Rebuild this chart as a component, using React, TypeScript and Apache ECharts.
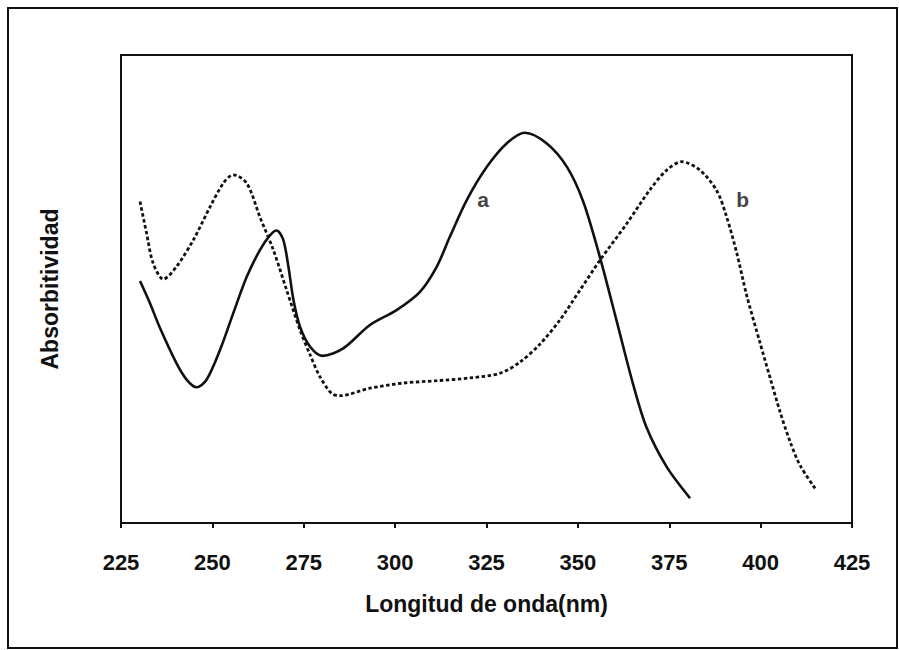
import React, { useEffect, useRef } from "react";
import * as echarts from "echarts";

// Wavelength (nm) and relative absorptivity for spectrum "a" (solid line)
const wavelengthA = [
  230.2, 232.9, 235.7, 240.2, 243.0, 245.7, 248.4, 252.1, 255.7, 259.4, 263.0,
  265.8, 267.6, 269.4, 270.8, 272.2, 274.0, 276.7, 280.1, 285.8, 293.1, 300.4,
  306.8, 311.4, 315.0, 319.6, 325.1, 330.5, 335.5, 341.5, 347.0, 351.5, 356.1,
  360.6, 365.2, 368.8, 374.3, 380.7,
];
const absorptivityA = [
  51.7, 47.0, 41.6, 34.1, 30.6, 29.0, 30.6, 37.0, 44.8, 52.6, 58.3,
  61.5, 62.5, 60.5, 54.8, 47.6, 41.9, 37.7, 35.7, 37.3, 42.3, 45.5,
  49.4, 54.8, 61.2, 69.0, 76.1, 81.1, 83.4, 81.1, 76.1, 68.6, 56.6,
  43.2, 29.4, 20.4, 12.0, 5.3,
];

// Wavelength (nm) and relative absorptivity for spectrum "b" (dotted line)
const wavelengthB = [
  230.2, 232.0, 233.8, 236.6, 240.2, 244.8, 249.4, 253.0, 255.7, 259.4, 263.0,
  266.7, 270.3, 274.0, 276.7, 279.4, 282.6, 284.9, 293.1, 302.2, 311.4, 320.5,
  328.7, 334.2, 339.6, 345.1, 350.6, 356.1, 363.4, 369.7, 374.3, 378.4, 383.4,
  388.0, 390.7, 393.5, 396.2, 399.8, 402.6, 405.3, 408.0, 410.8, 414.9,
];
const absorptivityB = [
  68.7, 61.9, 55.5, 52.1, 54.8, 60.5, 67.6, 72.6, 74.4, 72.6, 65.4,
  58.3, 49.8, 41.2, 36.0, 31.3, 27.7, 27.2, 28.8, 29.9, 30.4, 31.0,
  32.0, 34.4, 38.2, 43.4, 49.8, 56.2, 64.0, 71.2, 75.4, 77.2, 75.4,
  71.0, 65.4, 57.6, 48.6, 38.6, 31.0, 23.8, 17.5, 12.3, 7.4,
];

// Curve identifiers and where they are written on the plot
const curveNames = ["a", "b"];
const curveLabelX = [324.1, 395.1];
const curveLabelY = [69.2, 69.2];

const xTicks = [225, 250, 275, 300, 325, 350, 375, 400, 425];

const FONT = "'Liberation Sans', Arial, Helvetica, sans-serif";

export default function App() {
  const ref = useRef<HTMLDivElement | null>(null);

  useEffect(() => {
    if (!ref.current) return;
    const chart = echarts.init(ref.current, null, { renderer: "svg" });

    const pairs = (xs: number[], ys: number[]) => xs.map((x, i) => [x, ys[i]]);

    chart.setOption({
      animation: false,
      backgroundColor: "#ffffff",
      grid: {
        left: 121,
        top: 55,
        right: 47,
        bottom: 127,
        show: true,
        borderColor: "#111",
        borderWidth: 2,
        backgroundColor: "transparent",
      },
      graphic: [
        {
          type: "rect",
          shape: { x: 8, y: 8, width: 889, height: 640 },
          style: { fill: "none", stroke: "#111", lineWidth: 2 },
          silent: true,
        },
      ],
      xAxis: {
        type: "value",
        min: xTicks[0],
        max: xTicks[xTicks.length - 1],
        interval: 25,
        name: "Longitud de onda(nm)",
        nameLocation: "middle",
        nameGap: 69,
        nameTextStyle: { fontFamily: FONT, fontWeight: "bold", fontSize: 23, color: "#111" },
        axisLine: { show: true, lineStyle: { color: "#111", width: 2 } },
        axisTick: { show: true, inside: false, length: 5, lineStyle: { color: "#111", width: 2 } },
        axisLabel: {
          show: true,
          margin: 28,
          fontFamily: FONT,
          fontWeight: "bold",
          fontSize: 22,
          color: "#111",
        },
        splitLine: { show: false },
      },
      yAxis: {
        type: "value",
        min: 0,
        max: 100,
        name: "Absorbitividad",
        nameLocation: "middle",
        nameGap: 60,
        nameRotate: 90,
        nameTextStyle: { fontFamily: FONT, fontWeight: "bold", fontSize: 23, color: "#111" },
        axisLine: { show: true, lineStyle: { color: "#111", width: 2 } },
        axisTick: { show: false },
        axisLabel: { show: false },
        splitLine: { show: false },
      },
      series: [
        {
          name: curveNames[0],
          type: "line",
          data: pairs(wavelengthA, absorptivityA),
          smooth: 0.3,
          showSymbol: false,
          lineStyle: { color: "#111", width: 2.6, type: "solid" },
        },
        {
          name: curveNames[1],
          type: "line",
          data: pairs(wavelengthB, absorptivityB),
          smooth: 0.3,
          showSymbol: false,
          lineStyle: { color: "#111", width: 2.8, type: [3.5, 2.5] },
        },
        {
          type: "scatter",
          data: curveNames.map((n, i) => ({ value: [curveLabelX[i], curveLabelY[i]], name: n })),
          symbolSize: 0,
          label: {
            show: true,
            position: "inside",
            formatter: (p: any) => p.name,
            fontFamily: FONT,
            fontWeight: "bold",
            fontSize: 21,
            color: "#111",
          },
        },
      ],
    });

    return () => chart.dispose();
  }, []);

  return (
    <div
      ref={ref}
      style={{ position: "fixed", left: 0, top: 0, width: 899, height: 650 }}
    />
  );
}
